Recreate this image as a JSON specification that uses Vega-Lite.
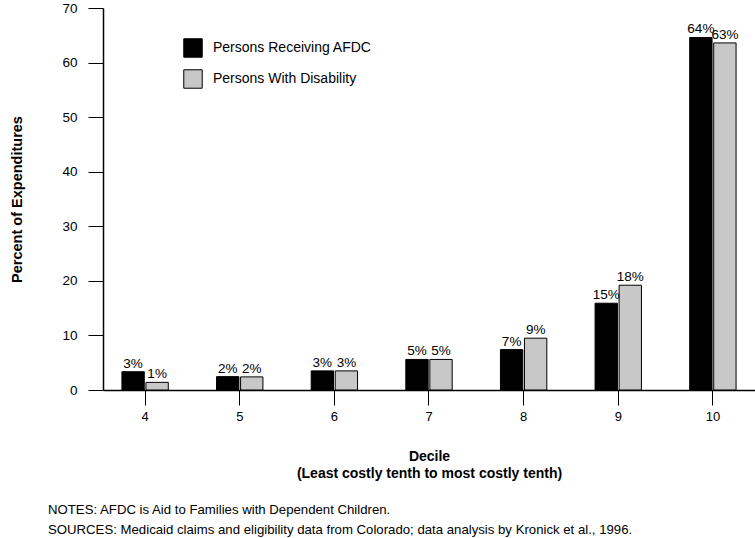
{
  "$schema": "https://vega.github.io/schema/vega-lite/v6.json",
  "width": 652,
  "height": 382,
  "autosize": {"type": "none"},
  "padding": {"left": 103, "top": 8, "right": 0, "bottom": 148},
  "background": "white",
  "config": {
    "font": "Liberation Sans",
    "view": {"stroke": null},
    "axis": {"domainColor": "black", "tickColor": "black", "labelColor": "black", "titleColor": "black", "grid": false, "labelFont": "Liberation Sans", "titleFont": "Liberation Sans"}
  },
  "title": {
    "text": "NOTES: AFDC is Aid to Families with Dependent Children.",
    "subtitle": "SOURCES: Medicaid claims and eligibility data from Colorado; data analysis by Kronick et al., 1996.",
    "orient": "bottom",
    "anchor": "start",
    "frame": "group",
    "dx": -55,
    "offset": 24,
    "fontSize": 13.2,
    "fontWeight": "normal",
    "subtitleFontSize": 13.2,
    "subtitlePadding": 7,
    "color": "black",
    "subtitleColor": "black",
    "font": "Liberation Sans",
    "subtitleFont": "Liberation Sans"
  },
  "data": {
    "values": [
      {"decile": 4, "group": "Persons Receiving AFDC", "value": 3.35, "label": "3%"},
      {"decile": 4, "group": "Persons With Disability", "value": 1.4, "label": "1%"},
      {"decile": 5, "group": "Persons Receiving AFDC", "value": 2.45, "label": "2%"},
      {"decile": 5, "group": "Persons With Disability", "value": 2.4, "label": "2%"},
      {"decile": 6, "group": "Persons Receiving AFDC", "value": 3.5, "label": "3%"},
      {"decile": 6, "group": "Persons With Disability", "value": 3.5, "label": "3%"},
      {"decile": 7, "group": "Persons Receiving AFDC", "value": 5.6, "label": "5%"},
      {"decile": 7, "group": "Persons With Disability", "value": 5.6, "label": "5%"},
      {"decile": 8, "group": "Persons Receiving AFDC", "value": 7.4, "label": "7%"},
      {"decile": 8, "group": "Persons With Disability", "value": 9.5, "label": "9%"},
      {"decile": 9, "group": "Persons Receiving AFDC", "value": 15.9, "label": "15%"},
      {"decile": 9, "group": "Persons With Disability", "value": 19.2, "label": "18%"},
      {"decile": 10, "group": "Persons Receiving AFDC", "value": 64.6, "label": "64%"},
      {"decile": 10, "group": "Persons With Disability", "value": 63.6, "label": "63%"}
    ]
  },
  "encoding": {
    "x": {
      "field": "decile",
      "type": "ordinal",
      "scale": {"paddingInner": 0.51, "paddingOuter": 0.2},
      "axis": {
        "labelAngle": 0,
        "labelFontSize": 13,
        "tickSize": 15,
        "tickWidth": 1,
        "domainWidth": 1.5,
        "labelPadding": 5,
        "title": ["Decile", "(Least costly tenth to most costly tenth)"],
        "titleFontWeight": "bold",
        "titleFontSize": 14,
        "titleLineHeight": 17,
        "titlePadding": 26
      }
    },
    "xOffset": {
      "field": "group",
      "type": "nominal",
      "sort": ["Persons Receiving AFDC", "Persons With Disability"],
      "scale": {"paddingInner": 0.07}
    },
    "y": {
      "field": "value",
      "type": "quantitative",
      "scale": {"domain": [0, 70], "nice": false},
      "axis": {
        "values": [0, 10, 20, 30, 40, 50, 60, 70],
        "labelFontSize": 13.5,
        "tickSize": 15,
        "tickWidth": 1,
        "domainWidth": 1.5,
        "labelPadding": 11,
        "title": "Percent of Expenditures",
        "titleFontWeight": "bold",
        "titleFontSize": 14.5,
        "titlePadding": 37
      }
    }
  },
  "layer": [
    {
      "mark": {"type": "bar", "stroke": "black", "strokeWidth": 1},
      "encoding": {
        "color": {
          "field": "group",
          "type": "nominal",
          "scale": {"domain": ["Persons Receiving AFDC", "Persons With Disability"], "range": ["#000000", "#c8c8c8"]},
          "legend": {
            "orient": "none",
            "legendX": 80,
            "legendY": 30,
            "title": null,
            "symbolType": "square",
            "symbolSize": 340,
            "symbolStrokeColor": "black",
            "symbolStrokeWidth": 1,
            "symbolOpacity": 1,
            "labelFontSize": 14,
            "labelOffset": 10,
            "labelColor": "black",
            "rowPadding": 7
          }
        }
      }
    },
    {
      "mark": {"type": "text", "dy": -4, "baseline": "alphabetic", "fontSize": 13.5, "color": "black"},
      "encoding": {"text": {"field": "label"}}
    }
  ]
}
